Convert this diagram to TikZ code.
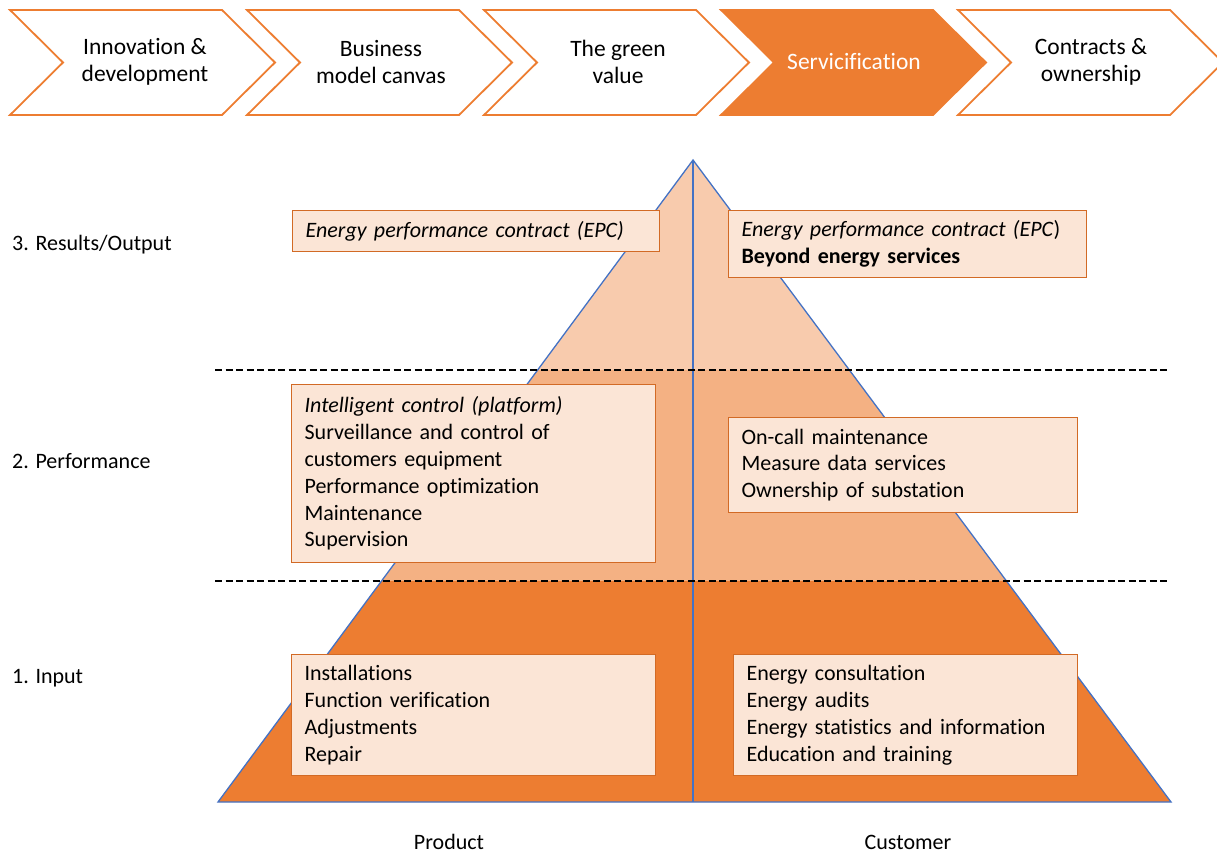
\documentclass[tikz,border=0pt]{standalone}
\usepackage{fontspec}
\setmainfont[Ligatures=NoCommon]{Carlito}
\usetikzlibrary{calc}
\definecolor{accent}{HTML}{ED7D31}
\definecolor{peachtop}{HTML}{F8CBAD}
\definecolor{peachmid}{HTML}{F4B183}
\definecolor{boxfill}{HTML}{FBE5D6}
\definecolor{boxline}{HTML}{D26A25}
\definecolor{edgeblue}{HTML}{4472C4}

\begin{document}
\begin{tikzpicture}[x=1pt,y=-1pt,
  chevron/.style={draw=accent, line width=1.8pt, line join=miter},
  steptext/.style={align=center, inner sep=0pt, font=\fontsize{23.5}{27}\selectfont},
  itembox/.style={draw=boxline, fill=boxfill, line width=1.2pt, align=left, anchor=north west,
                  inner xsep=13pt, inner ysep=0pt, font=\fontsize{22}{26.8}\selectfont},
  rowlabel/.style={anchor=west, inner sep=0pt, font=\fontsize{22}{26}\selectfont},
  divider/.style={black, line width=2.8pt, dash pattern=on 7pt off 3.5pt}]
	\useasboundingbox (0,0) rectangle (1217,853);

	% process chevrons
	\draw [chevron] (10,10) -- (222,10) -- (275,62.5) -- (222,115) -- (10,115) -- (63,62.5) -- cycle;
	\draw [chevron] (247,10) -- (459,10) -- (512,62.5) -- (459,115) -- (247,115) -- (300,62.5) -- cycle;
	\draw [chevron] (484,10) -- (696,10) -- (749,62.5) -- (696,115) -- (484,115) -- (537,62.5) -- cycle;
	\draw [chevron, fill=accent] (721,10) -- (933,10) -- (986,62.5) -- (933,115) -- (721,115) -- (774,62.5) -- cycle;
	\draw [chevron] (958,10) -- (1170,10) -- (1223,62.5) -- (1170,115) -- (958,115) -- (1011,62.5) -- cycle;
	\node [steptext] (innov) at (145,62) {Innovation \&\\development};
	\node [steptext] (canvas) at (381,62) {Business\\model canvas};
	\node [steptext] (green) at (618,62) {The green\\value};
	\node [steptext, text=white] (servic) at (854,62) {Servicification};
	\node [steptext] (contr) at (1091,62) {Contracts \&\\ownership};

	% pyramid
	\coordinate (apex) at (693,160);
	\coordinate (bl) at (218,802);
	\coordinate (br) at (1171,802);
	\coordinate (ul) at ($(apex)!0.3271!(bl)$);
	\coordinate (ur) at ($(apex)!0.3271!(br)$);
	\coordinate (ll) at ($(apex)!0.6558!(bl)$);
	\coordinate (lr) at ($(apex)!0.6558!(br)$);
	\fill [peachtop] (apex) -- (ul) -- (ur) -- cycle;
	\fill [peachmid] (ul) -- (ll) -- (lr) -- (ur) -- cycle;
	\fill [accent] (ll) -- (bl) -- (br) -- (lr) -- cycle;
	\draw [edgeblue, line width=1.3pt] (apex) -- (bl) -- (br) -- cycle;
	\draw [edgeblue, line width=1.3pt] (apex) -- (apex |- bl);

	% level dividers
	\coordinate (d1a) at (215,370);
	\coordinate (d1b) at (1170,370);
	\coordinate (d2a) at (215,581);
	\coordinate (d2b) at (1170,581);
	\draw [divider] (d1a) -- (d1b);
	\draw [divider] (d2a) -- (d2b);

	% content boxes
	\node [itembox, text width=341pt, minimum height=41pt] (epcprod) at (292,210)
		{\textit{Energy performance contract (EPC)}};
	\node [itembox, text width=332pt, minimum height=67pt] (epccust) at (728,210)
		{\textit{Energy performance contract (EPC})\\\textbf{Beyond energy services}};
	\node [itembox, text width=338pt, minimum height=178pt] (perfprod) at (291,384)
		{\textit{Intelligent control (platform)}\\Surveillance and control of\\customers equipment\\Performance optimization\\Maintenance\\Supervision};
	\node [itembox, text width=323pt, minimum height=95pt] (perfcust) at (728,417)
		{On-call maintenance\\Measure data services\\Ownership of substation};
	\node [itembox, text width=338pt, minimum height=121pt] (inprod) at (291,654)
		{Installations\\Function verification\\Adjustments\\Repair};
	\node [itembox, text width=318pt, minimum height=121pt] (incust) at (733,654)
		{Energy consultation\\Energy audits\\Energy statistics and information\\Education and training};

	% labels
	\node [rowlabel] (lvl3) at (12,245) {3. Results/Output};
	\node [rowlabel] (lvl2) at (12,461) {2. Performance};
	\node [rowlabel] (lvl1) at (12,678) {1. Input};
	\node [rowlabel, anchor=center] (prod) at (449,842) {Product};
	\node [rowlabel, anchor=center] (cust) at (908,842) {Customer};
\end{tikzpicture}
\end{document}
